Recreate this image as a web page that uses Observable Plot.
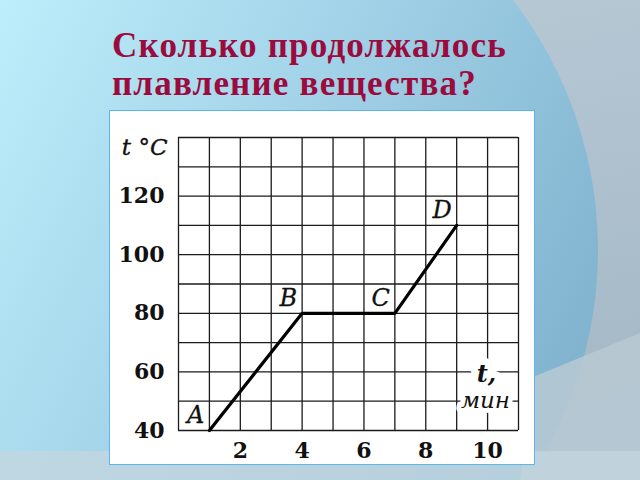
<!DOCTYPE html>
<html>
<head>
<meta charset="utf-8">
<script src="https://cdn.jsdelivr.net/npm/d3@7"></script>
<script src="https://cdn.jsdelivr.net/npm/@observablehq/plot@0.6"></script>
<style>
  html, body { margin: 0; padding: 0; }
  body { width: 640px; height: 480px; position: relative; overflow: hidden; }
  #bg { position: absolute; left: 0; top: 0; }
  #title {
    position: absolute; left: 112px; top: 27px; margin: 0;
    font-family: "Liberation Serif", serif; font-weight: bold;
    font-size: 35px; line-height: 38px; color: #9c0b3d; letter-spacing: 1.2px;
  }
  #panel {
    position: absolute; left: 110px; top: 111px; width: 424px; height: 353px;
    background: white; outline: 1.5px solid #5cb6e6;
  }
  #panel svg { display: block; }
</style>
</head>
<body>
<svg id="bg" width="640" height="480">
  <defs>
    <linearGradient id="blue" gradientUnits="userSpaceOnUse" x1="0" y1="0" x2="600" y2="300">
      <stop offset="0" stop-color="#bdeefb"/>
      <stop offset="0.5" stop-color="#a0d1e7"/>
      <stop offset="1" stop-color="#82b4d0"/>
    </linearGradient>
    <linearGradient id="gray" gradientUnits="userSpaceOnUse" x1="560" y1="0" x2="640" y2="400">
      <stop offset="0" stop-color="#b6c7d4"/>
      <stop offset="1" stop-color="#a4b8c6"/>
    </linearGradient>
  </defs>
  <rect width="640" height="480" fill="url(#gray)"/>
  <circle cx="188" cy="250" r="410" fill="url(#blue)"/>
  <polygon points="533,377 640,333 640,480 520,480" fill="#b9c9d4" opacity="0.85"/>
  <rect x="0" y="451" width="640" height="29" fill="#c3d6de" opacity="0.8"/>
</svg>
<h1 id="title">Сколько продолжалось<br>плавление вещества?</h1>
<div id="panel"></div>
<script>
// Data
const timeMin = [1, 4, 7, 9];          // t, мин
const tempC = [40, 80, 80, 110];       // t °C
const pointNames = ["A", "B", "C", "D"];

const xTicks = [2, 4, 6, 8, 10];
const yTicks = [40, 60, 80, 100, 120];
const xGrid = [0, 1, 2, 3, 4, 5, 6, 7, 8, 9, 10, 11];
const yGrid = [40, 50, 60, 70, 80, 90, 100, 110, 120, 130, 140];
const yAxisLabel = "t °C";
const xAxisLabel = ["t,", "мин"];

const points = timeMin.map((t, i) => ({t, temp: tempC[i], name: pointNames[i]}));

const font = "DejaVu Serif";
const ink = "#111";

const chart = Plot.plot({
  width: 424,
  height: 353,
  marginLeft: 68,
  marginRight: 16,
  marginTop: 26,
  marginBottom: 34,
  style: {background: "white", fontFamily: font, color: ink},
  x: {domain: [0, 11]},
  y: {domain: [40, 140]},
  marks: [
    Plot.ruleX(xGrid, {stroke: "#1b1b1b", strokeWidth: 1.3}),
    Plot.ruleY(yGrid, {stroke: "#1b1b1b", strokeWidth: 1.3}),
    Plot.text([xAxisLabel[0]], {frameAnchor: "bottom-right", textAnchor: "middle", dx: -32, dy: -49, fontSize: 24, fontWeight: "bold", fontStyle: "italic", fill: ink, stroke: "white", strokeWidth: 14, paintOrder: "stroke", fontFamily: font}),
    Plot.text([xAxisLabel[1]], {frameAnchor: "bottom-right", textAnchor: "middle", dx: -33, dy: -23, fontSize: 23, fontStyle: "italic", fill: ink, stroke: "white", strokeWidth: 10, paintOrder: "stroke", fontFamily: font}),
    Plot.line(points, {x: "t", y: "temp", stroke: "#000", strokeWidth: 3.2, strokeLinejoin: "miter"}),
    Plot.text(points, {x: "t", y: "temp", text: "name", textAnchor: "end", dx: -5, dy: -15, fontSize: 24, fontStyle: "italic", fill: ink, stroke: ink, strokeWidth: 0.3, fontFamily: font}),
    Plot.text([yAxisLabel], {frameAnchor: "top-left", textAnchor: "end", dx: -11, dy: 1, fontSize: 23, fontStyle: "italic", fill: ink, stroke: ink, strokeWidth: 0.35, fontFamily: font}),
    Plot.axisX(xTicks, {tickSize: 0, tickPadding: 12, fontSize: 22, fontWeight: "bold", label: null, fill: ink}),
    Plot.axisY(yTicks, {tickSize: 0, tickPadding: 14, fontSize: 22, fontWeight: "bold", label: null, fill: ink})
  ]
});
document.getElementById("panel").appendChild(chart);
</script>
</body>
</html>
